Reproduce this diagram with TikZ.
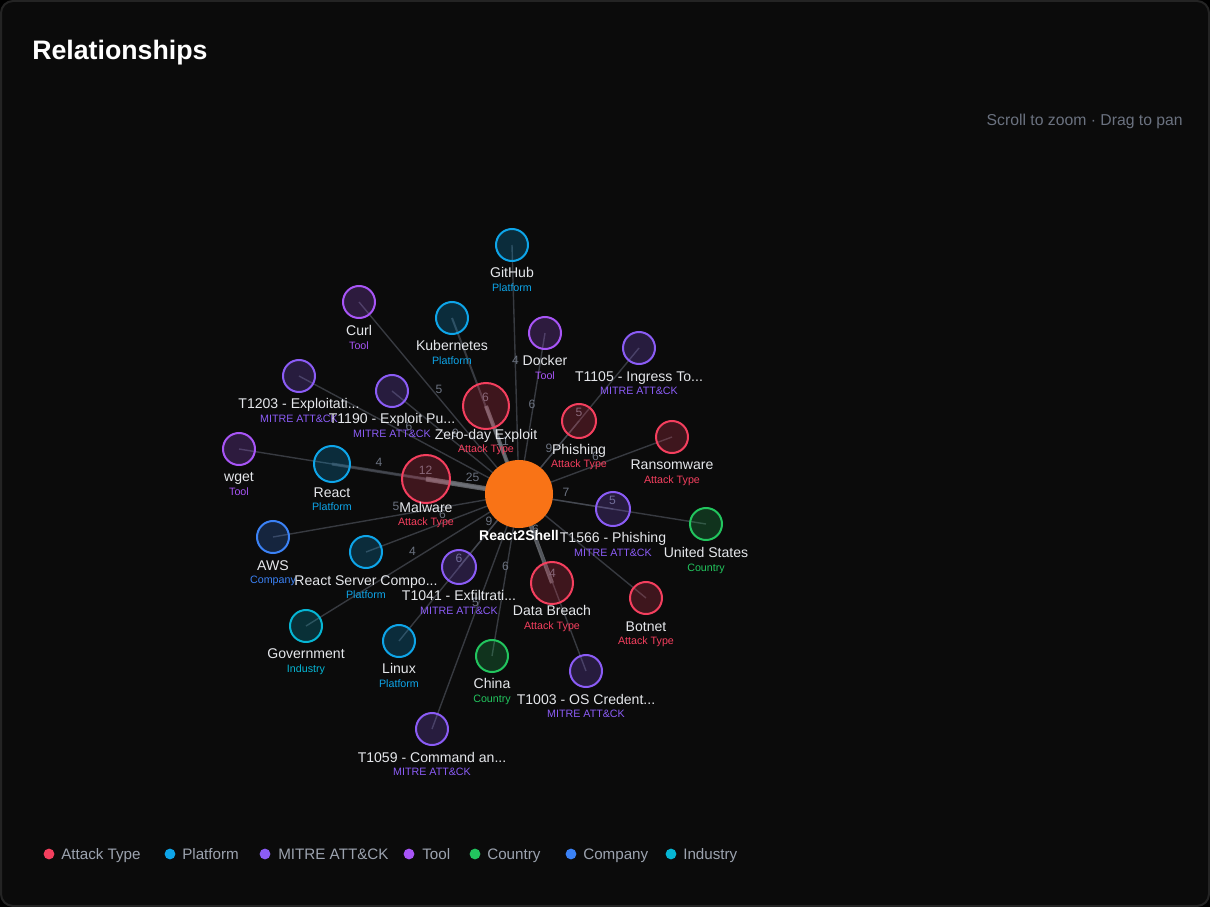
\documentclass[tikz,border=0pt]{standalone}
\usepackage{fontspec}
\setmainfont{Liberation Sans}

\definecolor{bgc}{HTML}{0B0B0B}
\definecolor{framec}{HTML}{242424}
\definecolor{atkc}{HTML}{F43F5E}
\definecolor{platc}{HTML}{0EA5E9}
\definecolor{mitrec}{HTML}{8B5CF6}
\definecolor{toolc}{HTML}{A855F7}
\definecolor{ctryc}{HTML}{22C55E}
\definecolor{compc}{HTML}{3B82F6}
\definecolor{indc}{HTML}{06B6D4}
\definecolor{hubc}{HTML}{F97316}
\definecolor{edgec}{HTML}{4A4E57}
\definecolor{numc}{HTML}{6B7280}
\definecolor{txtc}{HTML}{E5E7EB}
\definecolor{mutec}{HTML}{9CA3AF}

\pgfdeclarelayer{back}
\pgfdeclarelayer{links}
\pgfsetlayers{back,links,main}

\tikzset{
  ent/.style={circle, inner sep=0pt, minimum size=0.8cm, line width=0.05cm, fill opacity=0.22},
  atk/.style={ent, draw=atkc, fill=atkc},
  plat/.style={ent, draw=platc, fill=platc},
  mitre/.style={ent, draw=mitrec, fill=mitrec},
  tool/.style={ent, draw=toolc, fill=toolc},
  ctry/.style={ent, draw=ctryc, fill=ctryc},
  comp/.style={ent, draw=compc, fill=compc},
  ind/.style={ent, draw=indc, fill=indc},
  lbl/.style={text=txtc, inner sep=0pt, anchor=base, yshift=-3.6pt, font=\fontsize{10}{12}\selectfont},
  typ/.style={inner sep=0pt, anchor=base, yshift=-2.9pt, font=\fontsize{7.6}{9}\selectfont},
  link/.style={draw=edgec, line width=0.035cm, draw opacity=0.7},
  num/.style={text=numc, inner sep=0pt, yshift=6.4pt, font=\fontsize{8.6}{10}\selectfont},
  legdot/.style={circle, inner sep=0pt, minimum size=0.27cm},
  leg/.style={text=mutec, anchor=base west, yshift=-3.7pt, inner sep=0pt, font=\fontsize{10.8}{13}\selectfont}
}

\begin{document}
\begin{tikzpicture}[x=0.025cm, y=-0.025cm]
\useasboundingbox (0,0) rectangle (1210,907);
\begin{pgfonlayer}{back}
\fill[black] (0,0) rectangle (1210,907);
\draw[framec, fill=bgc, line width=0.05cm, rounded corners=0.3cm] (1,1) rectangle (1209,906);
\end{pgfonlayer}

\node[text=white, anchor=base west, inner sep=0pt, font=\bfseries\fontsize{19}{23}\selectfont] (title) at (32,60) {Relationships};
\node[text=numc, anchor=base east, inner sep=0pt, font=\fontsize{11.2}{13}\selectfont] (hint) at (1183,125) {Scroll to zoom · Drag to pan};

% entities
\node[fill=hubc, circle, inner sep=0pt, minimum size=1.7cm] (hub) at (519,494) {};
\node[lbl, font=\bfseries\fontsize{10}{12}\selectfont, text=white] (hub-l) at (519,535) {React2Shell};

\node[plat] (github) at (512,245) {};
\node[lbl] at (512,272) {GitHub};
\node[typ, text=platc] at (512,287) {Platform};

\node[tool] (curl) at (359,302) {};
\node[lbl] at (359,330) {Curl};
\node[typ, text=toolc] at (359,345) {Tool};

\node[plat] (kube) at (452,318) {};
\node[lbl] at (452,345) {Kubernetes};
\node[typ, text=platc] at (452,360) {Platform};

\node[tool] (docker) at (545,333) {};
\node[lbl] at (545,360) {Docker};
\node[typ, text=toolc] at (545,375) {Tool};

\node[mitre] (t1105) at (639,348) {};
\node[lbl] at (639,376) {T1105 - Ingress To...};
\node[typ, text=mitrec] at (639,390) {MITRE ATT\&CK};

\node[mitre] (t1203) at (299,376) {};
\node[lbl] at (299,403) {T1203 - Exploitati...};
\node[typ, text=mitrec] at (299,418) {MITRE ATT\&CK};

\node[mitre] (t1190) at (392,391) {};
\node[lbl] at (392,418) {T1190 - Exploit Pu...};
\node[typ, text=mitrec] at (392,433) {MITRE ATT\&CK};

\node[atk, minimum size=1.15cm] (zeroday) at (486,406) {};
\node[lbl] at (486,434) {Zero-day Exploit};
\node[typ, text=atkc] at (486,448) {Attack Type};

\node[atk, minimum size=0.85cm] (phishing) at (579,421) {};
\node[lbl] at (579,449) {Phishing};
\node[typ, text=atkc] at (579,463) {Attack Type};

\node[atk] (ransom) at (672,437) {};
\node[lbl] at (672,464) {Ransomware};
\node[typ, text=atkc] at (672,479) {Attack Type};

\node[tool] (wget) at (239,449) {};
\node[lbl] at (239,476) {wget};
\node[typ, text=toolc] at (239,491) {Tool};

\node[plat, minimum size=0.9cm] (react) at (332,464) {};
\node[lbl] at (332,492) {React};
\node[typ, text=platc] at (332,506) {Platform};

\node[atk, minimum size=1.2cm] (malware) at (426,479) {};
\node[lbl] at (426,507) {Malware};
\node[typ, text=atkc] at (426,521) {Attack Type};

\node[mitre, minimum size=0.85cm] (t1566) at (613,509) {};
\node[lbl] at (613,537) {T1566 - Phishing};
\node[typ, text=mitrec] at (613,552) {MITRE ATT\&CK};

\node[ctry] (usa) at (706,524) {};
\node[lbl] at (706,552) {United States};
\node[typ, text=ctryc] at (706,567) {Country};

\node[comp] (aws) at (273,537) {};
\node[lbl] at (273,565) {AWS};
\node[typ, text=compc] at (273,579) {Company};

\node[plat] (rsc) at (366,552) {};
\node[lbl] at (366,580) {React Server Compo...};
\node[typ, text=platc] at (366,594) {Platform};

\node[mitre, minimum size=0.85cm] (t1041) at (459,567) {};
\node[lbl] at (459,595) {T1041 - Exfiltrati...};
\node[typ, text=mitrec] at (459,610) {MITRE ATT\&CK};

\node[atk, minimum size=1.05cm] (breach) at (552,583) {};
\node[lbl] at (552,610) {Data Breach};
\node[typ, text=atkc] at (552,625) {Attack Type};

\node[atk] (botnet) at (646,598) {};
\node[lbl] at (646,626) {Botnet};
\node[typ, text=atkc] at (646,640) {Attack Type};

\node[ind] (gov) at (306,626) {};
\node[lbl] at (306,653) {Government};
\node[typ, text=indc] at (306,668) {Industry};

\node[plat] (linux) at (399,641) {};
\node[lbl] at (399,668) {Linux};
\node[typ, text=platc] at (399,683) {Platform};

\node[ctry] (china) at (492,656) {};
\node[lbl] at (492,683) {China};
\node[typ, text=ctryc] at (492,698) {Country};

\node[mitre] (t1003) at (586,671) {};
\node[lbl] at (586,699) {T1003 - OS Credent...};
\node[typ, text=mitrec] at (586,713) {MITRE ATT\&CK};

\node[mitre] (t1059) at (432,729) {};
\node[lbl] at (432,757) {T1059 - Command an...};
\node[typ, text=mitrec] at (432,771) {MITRE ATT\&CK};

% links
\begin{pgfonlayer}{links}
\draw[link] (hub.center) -- node[num] {4} (github.center);
\draw[link] (hub.center) -- node[num] {5} (curl.center);
\draw[link, line width=0.05cm] (hub.center) -- node[num] {6} (kube.center);
\draw[link] (hub.center) -- node[num] {6} (docker.center);
\draw[link] (hub.center) -- node[num] {5} (t1105.center);
\draw[link] (hub.center) -- node[num] {6} (t1203.center);
\draw[link] (hub.center) -- node[num] {9} (t1190.center);
\draw[link, line width=0.1cm, draw=edgec!70!white] (hub.center) -- node[num] {11} (zeroday.center);
\draw[link] (hub.center) -- node[num] {9} (phishing.center);
\draw[link] (hub.center) -- node[num] {6} (ransom.center);
\draw[link] (hub.center) -- node[num] {4} (wget.center);
\draw[link, line width=0.075cm] (hub.center) -- node[num] {12} (react.center);
\draw[link, line width=0.125cm, draw=edgec!70!white] (hub.center) -- node[num] {25} (malware.center);
\draw[link] (hub.center) -- node[num] {7} (t1566.center);
\draw[link] (hub.center) -- node[num] {5} (usa.center);
\draw[link] (hub.center) -- node[num] {5} (aws.center);
\draw[link] (hub.center) -- node[num] {6} (rsc.center);
\draw[link] (hub.center) -- node[num] {9} (t1041.center);
\draw[link, line width=0.1cm, draw=edgec!70!white] (hub.center) -- node[num] {6} (breach.center);
\draw[link] (hub.center) -- (botnet.center);
\draw[link] (hub.center) -- node[num] {4} (gov.center);
\draw[link] (hub.center) -- node[num] {6} (linux.center);
\draw[link] (hub.center) -- node[num] {6} (china.center);
\draw[link] (hub.center) -- node[num] {4} (t1003.center);
\draw[link] (hub.center) -- node[num] {5} (t1059.center);
\end{pgfonlayer}

% legend
\node[legdot, fill=atkc] (lg-atk) at (49,854) {};
\node[leg] at (61,854) {Attack Type};
\node[legdot, fill=platc] (lg-plat) at (170,854) {};
\node[leg] at (182,854) {Platform};
\node[legdot, fill=mitrec] (lg-mitre) at (265,854) {};
\node[leg] at (278,854) {MITRE ATT\&CK};
\node[legdot, fill=toolc] (lg-tool) at (409,854) {};
\node[leg] at (422,854) {Tool};
\node[legdot, fill=ctryc] (lg-ctry) at (475,854) {};
\node[leg] at (487,854) {Country};
\node[legdot, fill=compc] (lg-comp) at (571,854) {};
\node[leg] at (583,854) {Company};
\node[legdot, fill=indc] (lg-ind) at (671,854) {};
\node[leg] at (683,854) {Industry};
\end{tikzpicture}
\end{document}
